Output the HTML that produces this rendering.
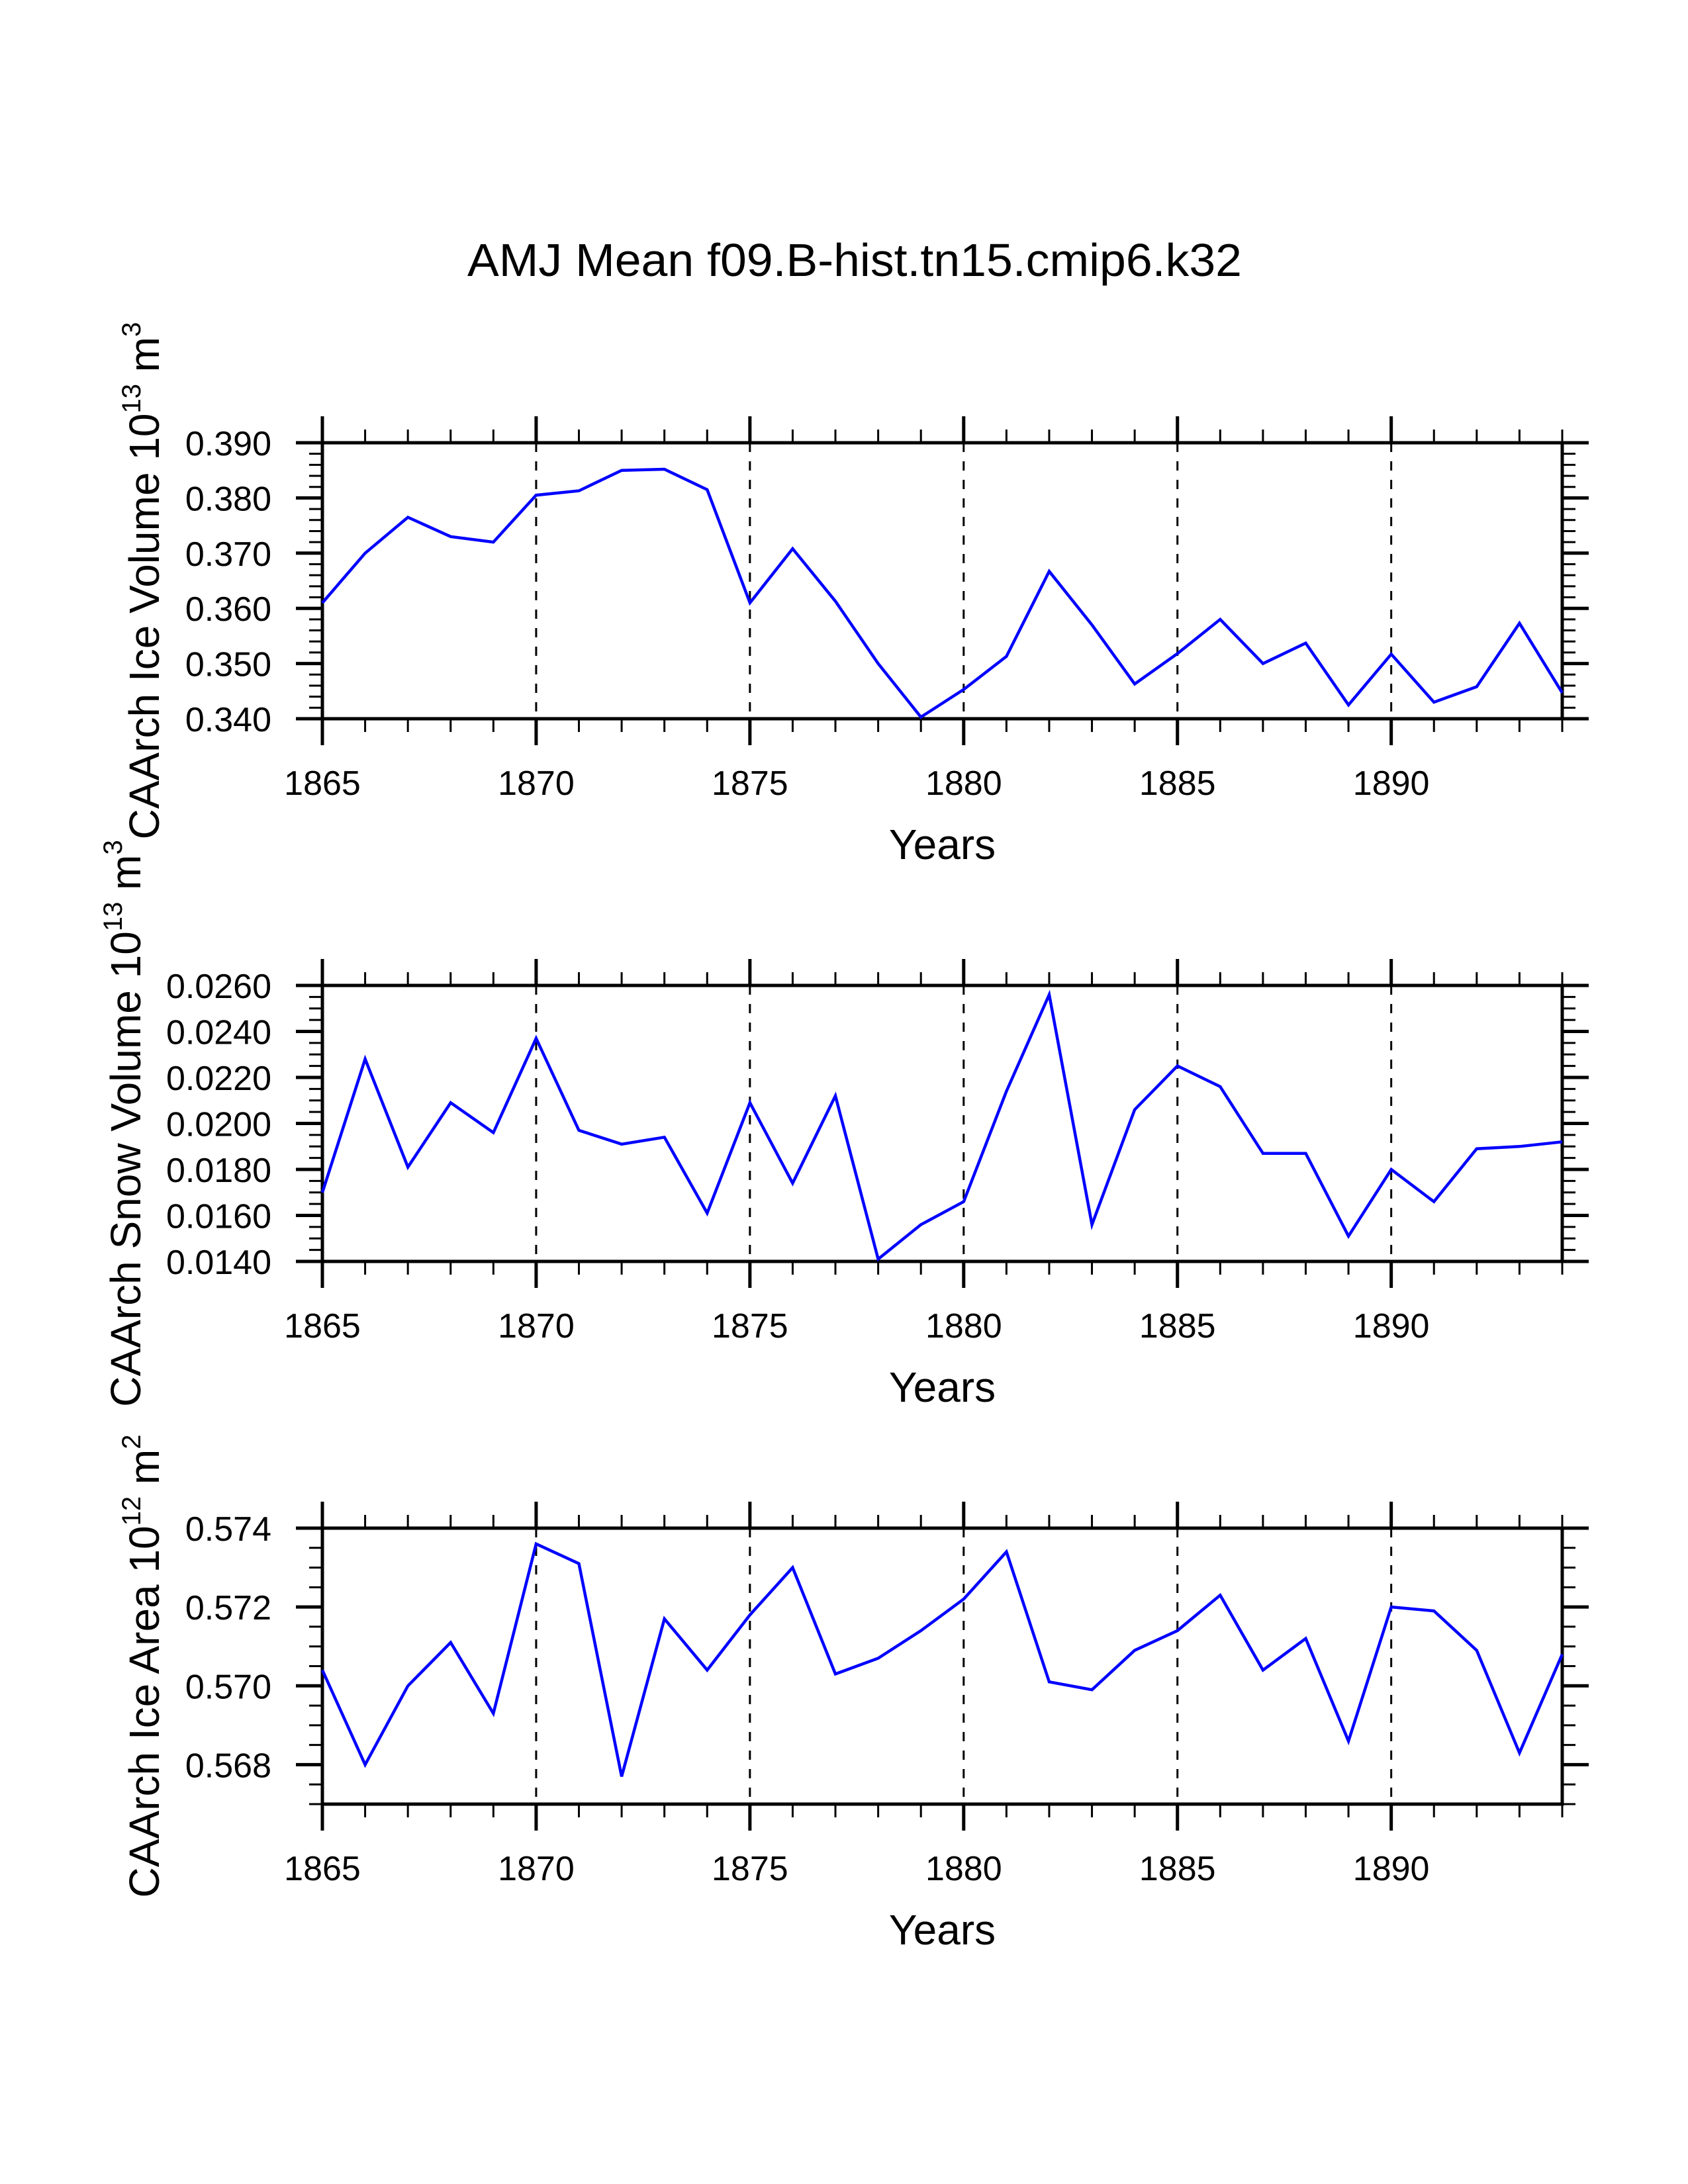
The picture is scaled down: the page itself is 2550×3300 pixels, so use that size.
<!DOCTYPE html>
<html><head><meta charset="utf-8"><style>
html,body{margin:0;padding:0;background:#fff}
svg{display:block}
text{font-family:"Liberation Sans",sans-serif;fill:#000}
</style></head><body>
<svg id="chart" width="2550" height="3300" viewBox="0 0 2550 3300" xmlns="http://www.w3.org/2000/svg">
<text x="1291" y="417" font-size="70" text-anchor="middle" textLength="1170" lengthAdjust="spacingAndGlyphs">AMJ Mean f09.B-hist.tn15.cmip6.k32</text>
<g id="panels"></g>
</svg>
<script>
const years = [1865,1866,1867,1868,1869,1870,1871,1872,1873,1874,1875,1876,1877,1878,1879,1880,1881,1882,1883,1884,1885,1886,1887,1888,1889,1890,1891,1892,1893,1894];
const iceVolume = [0.361,0.370,0.3765,0.373,0.372,0.3805,0.3813,0.385,0.3852,0.3815,0.361,0.3708,0.3613,0.350,0.3403,0.3453,0.3513,0.3667,0.357,0.3463,0.3518,0.358,0.350,0.3537,0.3425,0.3517,0.3430,0.3458,0.3573,0.3447];
const snowVolume = [0.0170,0.0228,0.0181,0.0209,0.0196,0.0237,0.0197,0.0191,0.0194,0.0161,0.0209,0.0174,0.0212,0.0141,0.0156,0.0166,0.0214,0.0256,0.0156,0.0206,0.0225,0.0216,0.0187,0.0187,0.0151,0.0180,0.0166,0.0189,0.0190,0.0192];
const iceArea = [0.5704,0.5680,0.5700,0.5711,0.5693,0.5736,0.5731,0.5677,0.5717,0.5704,0.5718,0.5730,0.5703,0.5707,0.5714,0.5722,0.5734,0.5701,0.5699,0.5709,0.5714,0.5723,0.5704,0.5712,0.5686,0.5720,0.5719,0.5709,0.5683,0.5708];
const xTickLabels = ["1865","1870","1875","1880","1885","1890"];
const iceVolTicks = ["0.340","0.350","0.360","0.370","0.380","0.390"];
const snowVolTicks = ["0.0140","0.0160","0.0180","0.0200","0.0220","0.0240","0.0260"];
const iceAreaTicks = ["0.568","0.570","0.572","0.574"];

const NS="http://www.w3.org/2000/svg";
const L=487,R=2360,H=417;
const X0=1865,X1=1894;
function xs(v){return L+(v-X0)/(X1-X0)*(R-L);}
function mk(tag,attrs,parent){const e=document.createElementNS(NS,tag);for(const k in attrs)e.setAttribute(k,attrs[k]);parent.appendChild(e);return e;}
const root=document.getElementById('panels');

const panels=[
 {top:669,ymin:0.340,ymax:0.390,minor:0.002,ticks:iceVolTicks,data:iceVolume,title:["CAArch Ice Volume 10","13"," m","3"],tx:240,name:'ice-volume'},
 {top:1489,ymin:0.0140,ymax:0.0260,minor:0.0005,ticks:snowVolTicks,data:snowVolume,title:["CAArch Snow Volume 10","13"," m","3"],tx:212,name:'snow-volume'},
 {top:2309,ymin:0.567,ymax:0.574,minor:0.0005,ticks:iceAreaTicks,data:iceArea,title:["CAArch Ice Area 10","12"," m","2"],tx:240,name:'ice-area'}
];
panels.forEach(p=>{
 const T=p.top,B=T+H;
 const ys=v=>B-(v-p.ymin)/(p.ymax-p.ymin)*H;
 const g=mk('g',{},root);
 
 
 // gridlines
 for(let yr=1870;yr<X1;yr+=5){
  const ln=mk('line',{x1:xs(yr),x2:xs(yr),y1:T,y2:B,stroke:'#000','stroke-width':3,'stroke-dasharray':'14,14'},g);
  
  
 }
 // x ticks
 for(let yr=X0;yr<=X1;yr++){
  const major=(yr%5===0), len=major?40:20, w=major?5:3;
  mk('line',{x1:xs(yr),x2:xs(yr),y1:B,y2:B+len,stroke:'#000','stroke-width':w},g);
  mk('line',{x1:xs(yr),x2:xs(yr),y1:T,y2:T-len,stroke:'#000','stroke-width':w},g);
 }
 xTickLabels.forEach(s=>{
  const t=mk('text',{x:xs(+s),y:B+115,'font-size':52,'text-anchor':'middle'},g);
  t.textContent=s;
  
  
 });
 // y ticks
 const n=Math.round((p.ymax-p.ymin)/p.minor);
 for(let i=0;i<=n;i++){
  const v=p.ymin+i*p.minor;
  const major=p.ticks.some(s=>Math.abs(+s-v)<p.minor/10);
  const len=major?40:20,w=major?5:3;
  mk('line',{x1:L,x2:L-len,y1:ys(v),y2:ys(v),stroke:'#000','stroke-width':w},g);
  mk('line',{x1:R,x2:R+len,y1:ys(v),y2:ys(v),stroke:'#000','stroke-width':w},g);
 }
 p.ticks.forEach(s=>{
  const t=mk('text',{x:410,y:ys(+s)+19,'font-size':52,'text-anchor':'end'},g);
  t.textContent=s;
  
  
 });
 // frame
 const fr=mk('rect',{x:L,y:T,width:R-L,height:H,fill:'none',stroke:'#000','stroke-width':5},g);
 
 
 // series
 const pts=p.data.map((v,i)=>xs(years[i]).toFixed(1)+','+ys(v).toFixed(1)).join(' ');
 const pl=mk('polyline',{points:pts,fill:'none',stroke:'#0000ff','stroke-width':4.5,'stroke-linejoin':'miter'},g);
 
 
 // x title
 const xt=mk('text',{x:(L+R)/2,y:B+212,'font-size':64,'text-anchor':'middle'},g);
 xt.textContent='Years';
 
 
 // y title
 const cy=(T+B)/2;
 const yt=mk('text',{x:p.tx,y:cy,'font-size':64,'text-anchor':'middle',transform:'rotate(-90 '+p.tx+' '+cy+')'},g);
 
 
 const a=mk('tspan',{},yt);a.textContent=p.title[0];
 const b=mk('tspan',{dy:-28,'font-size':40},yt);b.textContent=p.title[1];
 const c=mk('tspan',{dy:28},yt);c.textContent=p.title[2];
 const d=mk('tspan',{dy:-28,'font-size':40},yt);d.textContent=p.title[3];
});
</script>
</body></html>
